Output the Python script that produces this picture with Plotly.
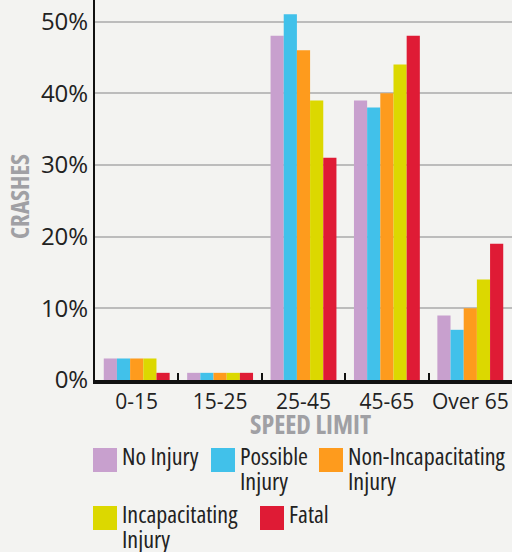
import plotly.graph_objects as go

# Share of crashes (%) by posted speed limit, per injury severity
speed_limits = ["0-15", "15-25", "25-45", "45-65", "Over 65"]
no_injury = [3, 1, 48, 39, 9]
possible_injury = [3, 1, 51, 38, 7]
non_incapacitating_injury = [3, 1, 46, 40, 10]
incapacitating_injury = [3, 1, 39, 44, 14]
fatal = [1, 1, 31, 48, 19]

series_names = ["No Injury", "Possible Injury", "Non-Incapacitating Injury",
                "Incapacitating Injury", "Fatal"]
series_label_lines = [["No Injury"], ["Possible", "Injury"],
                      ["Non-Incapacitating", "Injury"],
                      ["Incapacitating", "Injury"], ["Fatal"]]
series_values = [no_injury, possible_injury, non_incapacitating_injury,
                 incapacitating_injury, fatal]
series_colors = ["#c8a0ce", "#41c1ea", "#fe9b1d", "#dcd800", "#df1b35"]
y_tick_values = [0, 10, 20, 30, 40, 50]
y_tick_text = [f"{v}%" for v in y_tick_values]

W, H = 512, 552
ML, MR, MT, MB = 95, 0, 0, 172
PW, PH = W - ML - MR, H - MT - MB

FONT = "Open Sans, Noto Sans, sans-serif"
BG = "#f3f3f1"


def px(x):
    return (x - ML) / PW


def py(y):
    return (H - MB - y) / PH


def condensed(s, bold=False):
    if bold:
        s = f"<b>{s}</b>"
    return f'<span style="font-stretch:condensed">{s}</span>'


fig = go.Figure()
for name, vals, color in zip(series_names, series_values, series_colors):
    fig.add_trace(go.Bar(x=speed_limits, y=vals, name=name,
                         marker=dict(color=color, line=dict(width=0)),
                         showlegend=False))

fig.update_layout(
    width=W, height=H,
    margin=dict(l=ML, r=MR, t=MT, b=MB, pad=0),
    paper_bgcolor=BG, plot_bgcolor=BG,
    barmode="group", bargap=0.21, bargroupgap=0,
    xaxis=dict(showgrid=False, showline=True, linecolor="#111111", linewidth=4,
               ticks="inside", tickson="boundaries", ticklen=7, tickwidth=2,
               tickcolor="#111111", range=[-0.5, 4.5], tickangle=0,
               tickfont=dict(family=FONT, size=21, color="#222222")),
    yaxis=dict(range=[0, 53], tickmode="array", tickvals=y_tick_values,
               ticktext=y_tick_text,
               showgrid=True, gridcolor="#bcbcbc", gridwidth=1.5,
               zeroline=False, showline=True, linecolor="#111111", linewidth=2,
               ticks="", tickfont=dict(family=FONT, size=24, color="#222222")),
    font=dict(family=FONT),
)

# Axis titles
fig.add_annotation(text=condensed("SPEED LIMIT", bold=True), xref="paper", yref="paper",
                   x=px(310), y=py(424), xanchor="center", yanchor="middle",
                   showarrow=False, font=dict(family=FONT, size=26, color="#a0a0a4"))
fig.add_annotation(text=condensed("CRASHES", bold=True), xref="paper", yref="paper",
                   x=px(19), y=py(197), xanchor="center", yanchor="middle",
                   textangle=-90, showarrow=False,
                   font=dict(family=FONT, size=25, color="#a0a0a4"))

# Legend: swatch position (left, top) for each series
swatch_pos = [(93, 448), (211, 448), (319, 448), (93, 506), (260, 506)]
SW = 24
LINE_GAP = 25
for lines, color, (sx, sy) in zip(series_label_lines, series_colors, swatch_pos):
    fig.add_shape(type="rect", xref="paper", yref="paper",
                  x0=px(sx), x1=px(sx + SW), y0=py(sy), y1=py(sy + SW),
                  fillcolor=color, line=dict(width=0))
    for i, line in enumerate(lines):
        fig.add_annotation(text=condensed(line), xref="paper", yref="paper",
                           x=px(sx + SW + 3), y=py(sy + 7 + i * LINE_GAP),
                           xanchor="left", yanchor="middle", showarrow=False,
                           font=dict(family=FONT, size=24, color="#222222"))

fig.write_html("out.html")
